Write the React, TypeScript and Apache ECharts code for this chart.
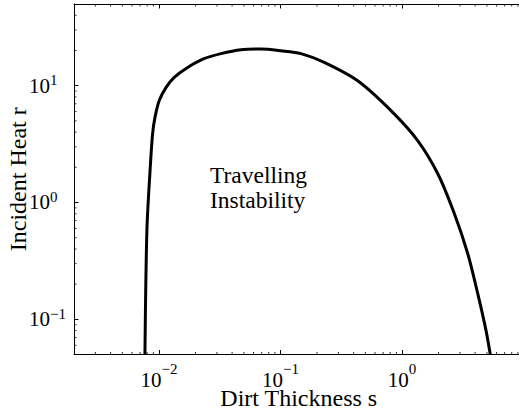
import React, { useEffect, useRef } from "react";
import * as echarts from "echarts";

// Dirt thickness s (x) and incident heat r (y)
const sValues = [
  0.00767, 0.00796, 0.00848, 0.00887, 0.00927, 0.01006, 0.01142, 0.01329,
  0.01722, 0.02347, 0.0324, 0.0473, 0.0691, 0.1009, 0.1475, 0.2293, 0.4318,
  0.812, 1.346, 1.967, 2.695, 3.474, 4.198, 4.913, 5.33,
];
const rValues = [
  0.05, 0.577, 1.99, 3.89, 5.33, 7.45, 9.61, 11.7, 14.3, 17.0, 18.8, 20.3,
  20.6, 19.9, 18.8, 15.8, 11.0, 6.11, 3.39, 1.77, 0.805, 0.366, 0.1667,
  0.0805, 0.05,
];

// Axis ranges and ticks
const xRange = [0.002, 10];
const yRange = [0.05, 50];
const xLabelExponents = [-2, -1, 0];
const yLabelExponents = [-1, 0, 1];
const minorMultipliers = [2, 3, 4, 5, 6, 7, 8, 9];
const xDecades = [0.001, 0.01, 0.1, 1];
const yDecades = [0.01, 0.1, 1, 10];

const xTitle = "Dirt Thickness s";
const yTitle = "Incident Heat r";
const annotation = "Travelling\nInstability";

const FONT = '"Liberation Serif", "Times New Roman", serif';

function minorTicks(decades: number[], range: number[]) {
  const out: number[] = [];
  decades.forEach((d) =>
    minorMultipliers.forEach((m) => {
      const v = +(d * m).toPrecision(6);
      if (v > range[0] && v < range[1]) out.push(v);
    })
  );
  return out;
}

function powLabel(v: number, allowed: number[]) {
  const l = Math.log10(v);
  const e = Math.round(l);
  if (Math.abs(l - e) > 1e-6 || allowed.indexOf(e) < 0) return "";
  const exp = e < 0 ? "\u2212" + -e : String(e);
  return "{b|10}{s|" + exp + "}";
}

export default function App() {
  const ref = useRef<HTMLDivElement>(null);

  useEffect(() => {
    document.body.style.margin = "0";
    document.body.style.overflow = "hidden";
    document.documentElement.style.overflow = "hidden";
    if (!ref.current) return;
    const chart = echarts.init(ref.current, undefined, { renderer: "svg" });

    const MAJOR = 4.5;
    const MINOR = 2.5;
    const lineStyle = { color: "#000", width: 1 };

    const xMinor = minorTicks(xDecades, xRange);
    const yMinor = minorTicks(yDecades, yRange);

    const baseX = {
      type: "log",
      min: xRange[0],
      max: xRange[1],
      logBase: 10,
      axisLine: { show: true, lineStyle },
      axisTick: { show: true, inside: true, length: MAJOR, lineStyle },
      splitLine: { show: false },
      minorTick: { show: false },
    };
    const baseY = {
      type: "log",
      min: yRange[0],
      max: yRange[1],
      logBase: 10,
      axisLine: { show: true, lineStyle },
      axisTick: { show: true, inside: true, length: MAJOR, lineStyle },
      splitLine: { show: false },
      minorTick: { show: false },
    };

    const tickSeries = (data: number[][], size: number[], offset: number[], name: string) => ({
      type: "scatter",
      name,
      silent: true,
      clip: false,
      symbol: "rect",
      symbolSize: size,
      symbolOffset: offset,
      itemStyle: { color: "#000" },
      data,
      z: 3,
    });

    const option: any = {
      animation: false,
      backgroundColor: "#fff",
      grid: {
        left: 74,
        top: 4,
        width: 449.5,
        height: 350.5,
        containLabel: false,
        outerBoundsMode: "none",
      },
      xAxis: [
        {
          ...baseX,
          position: "bottom",
          name: xTitle,
          nameLocation: "middle",
          nameGap: 35,
          nameMoveOverlap: false,
          nameTextStyle: { fontFamily: FONT, fontSize: 24, lineHeight: 16, color: "#000" },
          axisLabel: {
            show: true,
            margin: 6.5,
            formatter: (v: number) => powLabel(v, xLabelExponents),
            rich: {
              b: { fontFamily: FONT, fontSize: 21, color: "#000", verticalAlign: "bottom" },
              s: {
                fontFamily: FONT,
                fontSize: 15,
                color: "#000",
                verticalAlign: "top",
                padding: [0, 0, 14, 0],
              },
            },
          },
        },
        { ...baseX, position: "top", axisLabel: { show: false } },
      ],
      yAxis: [
        {
          ...baseY,
          position: "left",
          name: yTitle,
          nameLocation: "middle",
          nameGap: 44,
          nameMoveOverlap: false,
          nameTextStyle: { fontFamily: FONT, fontSize: 24, color: "#000" },
          axisLabel: {
            show: true,
            margin: 45,
            align: "left",
            formatter: (v: number) => powLabel(v, yLabelExponents),
            rich: {
              b: { fontFamily: FONT, fontSize: 21, color: "#000", lineHeight: 26 },
              s: { fontFamily: FONT, fontSize: 15, color: "#000", verticalAlign: "top" },
            },
          },
        },
        {
          ...baseY,
          position: "right",
          axisLine: { show: false },
          axisLabel: { show: false },
        },
      ],
      graphic: [
        {
          type: "text",
          left: 210,
          top: 162,
          silent: true,
          style: {
            text: annotation,
            fontFamily: FONT,
            fontSize: 23.5,
            lineHeight: 25,
            fill: "#000",
          },
        },
      ],
      series: [
        {
          type: "line",
          name: "r(s)",
          data: sValues.map((s, i) => [s, rValues[i]]),
          showSymbol: false,
          smooth: 0.3,
          clip: true,
          lineStyle: { color: "#000", width: 3 },
          itemStyle: { color: "#000" },
          z: 5,
        },
        tickSeries(xMinor.map((v) => [v, yRange[0]]), [1, MINOR], [0, -MINOR / 2], "xMinorBottom"),
        tickSeries(xMinor.map((v) => [v, yRange[1]]), [1, MINOR], [0, MINOR / 2], "xMinorTop"),
        tickSeries(yMinor.map((v) => [xRange[0], v]), [MINOR, 1], [MINOR / 2, 0], "yMinorLeft"),
        tickSeries(yMinor.map((v) => [xRange[1], v]), [MINOR, 1], [-MINOR / 2, 0], "yMinorRight"),
      ],
    };

    chart.setOption(option);
    return () => chart.dispose();
  }, []);

  return <div ref={ref} style={{ width: 530, height: 418, background: "#fff" }} />;
}
